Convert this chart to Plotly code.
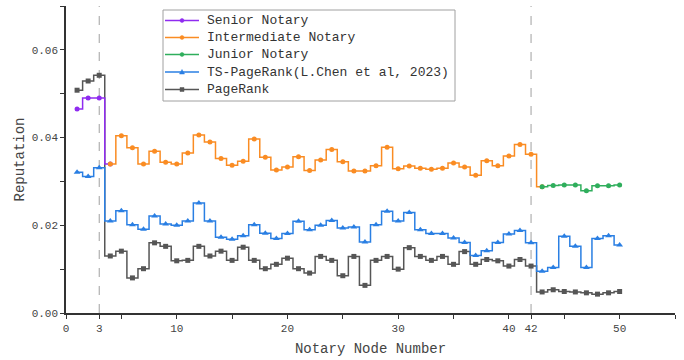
import plotly.graph_objects as go

# ---- data ----
senior_nodes = [1, 2, 3]
senior_rep = [0.0465, 0.0490, 0.0490]

intermediate_nodes = list(range(4, 43))
intermediate_rep = [0.0340, 0.0404, 0.0377, 0.0340, 0.0369, 0.0344, 0.0340, 0.0365, 0.0406, 0.0390,
                    0.0352, 0.0337, 0.0346, 0.0397, 0.0355, 0.0326, 0.0333, 0.0356, 0.0325, 0.0349,
                    0.0373, 0.0345, 0.0324, 0.0324, 0.0336, 0.0378, 0.0329, 0.0335, 0.0330, 0.0328,
                    0.0330, 0.0342, 0.0333, 0.0314, 0.0347, 0.0336, 0.0358, 0.0384, 0.0362]

junior_nodes = list(range(43, 51))
junior_rep = [0.0288, 0.0291, 0.0292, 0.0292, 0.0279, 0.0290, 0.0290, 0.0292]

all_nodes = list(range(1, 51))
ts_pagerank = [0.0321, 0.0311, 0.0331, 0.0210, 0.0233, 0.0201, 0.0191, 0.0221, 0.0203, 0.0200,
               0.0210, 0.0251, 0.0210, 0.0173, 0.0168, 0.0176, 0.0201, 0.0182, 0.0170, 0.0181,
               0.0209, 0.0190, 0.0200, 0.0211, 0.0194, 0.0196, 0.0162, 0.0201, 0.0232, 0.0210,
               0.0229, 0.0190, 0.0181, 0.0181, 0.0171, 0.0161, 0.0131, 0.0142, 0.0161, 0.0180,
               0.0188, 0.0160, 0.0095, 0.0104, 0.0175, 0.0152, 0.0104, 0.0170, 0.0176, 0.0155]
pagerank = [0.0508, 0.0529, 0.0542, 0.0130, 0.0141, 0.0080, 0.0101, 0.0160, 0.0152, 0.0119,
            0.0120, 0.0152, 0.0130, 0.0141, 0.0120, 0.0150, 0.0120, 0.0101, 0.0111, 0.0125,
            0.0101, 0.0091, 0.0129, 0.0120, 0.0085, 0.0129, 0.0063, 0.0120, 0.0129, 0.0100,
            0.0149, 0.0129, 0.0120, 0.0129, 0.0111, 0.0140, 0.0111, 0.0122, 0.0119, 0.0107,
            0.0122, 0.0107, 0.0048, 0.0053, 0.0049, 0.0048, 0.0046, 0.0043, 0.0046, 0.0049]

series_names = ["Senior Notary", "Intermediate Notary", "Junior Notary",
                "TS-PageRank(L.Chen et al, 2023)", "PageRank"]

divider_nodes = [3, 42]
x_tick_vals = [0, 3, 5, 10, 15, 20, 25, 30, 35, 40, 42, 45, 50, 55]
x_tick_text = ["0", "3", "", "10", "", "20", "", "30", "", "40", "42", "", "50", ""]
y_tick_vals = [0.0, 0.01, 0.02, 0.03, 0.04, 0.05, 0.06, 0.07]
y_tick_text = ["0.00", "", "0.02", "", "0.04", "", "0.06", ""]

C_SEN = "#8f2bf0"
C_INT = "#fa8c23"
C_JUN = "#2fae5c"
C_TS = "#2a7fe3"
C_PR = "#565656"
series_colors = [C_SEN, C_INT, C_JUN, C_TS, C_PR]
series_symbols = ["circle", "circle", "circle", "triangle", "square"]

MONO = "Liberation Mono"
W, H = 684, 360
ML, MR, MT, MB = 66, 9, 6, 47

# each class segment continues its step into the first node of the next class
sen_x = senior_nodes + [intermediate_nodes[0]]
sen_y = senior_rep + [intermediate_rep[0]]
int_x = intermediate_nodes + [junior_nodes[0]]
int_y = intermediate_rep + [junior_rep[0]]

fig = go.Figure()
# drawn bottom-to-top: PageRank, TS-PageRank, then notary classes
fig.add_trace(go.Scatter(
    x=all_nodes, y=pagerank, name=series_names[4], mode="lines+markers",
    line=dict(color=C_PR, width=1.5, shape="hvh"),
    marker=dict(symbol="square", size=5, color=C_PR)))
fig.add_trace(go.Scatter(
    x=all_nodes, y=ts_pagerank, name=series_names[3], mode="lines+markers",
    line=dict(color=C_TS, width=1.5, shape="hvh"),
    marker=dict(symbol="triangle-up", size=6, color=C_TS)))
fig.add_trace(go.Scatter(
    x=sen_x, y=sen_y, name=series_names[0], mode="lines+markers",
    line=dict(color=C_SEN, width=1.5, shape="hvh"),
    marker=dict(symbol="circle", size=5, color=C_SEN)))
fig.add_trace(go.Scatter(
    x=int_x, y=int_y, name=series_names[1], mode="lines+markers",
    line=dict(color=C_INT, width=1.5, shape="hvh"),
    marker=dict(symbol="circle", size=5, color=C_INT)))
fig.add_trace(go.Scatter(
    x=junior_nodes, y=junior_rep, name=series_names[2], mode="lines+markers",
    line=dict(color=C_JUN, width=1.5, shape="hvh"),
    marker=dict(symbol="circle", size=5, color=C_JUN)))

for d in divider_nodes:
    fig.add_shape(type="line", xref="x", yref="paper", x0=d, x1=d, y0=0, y1=1,
                  line=dict(color="#a0a0a0", width=1, dash="dash"), layer="below")

# ---- legend box (drawn manually to match the compact row spacing) ----
pw = W - ML - MR
ph = H - MT - MB


def px_x(p):
    return (p - ML) / pw


def px_y(p):
    return (H - MB - p) / ph


fig.add_shape(type="rect", xref="paper", yref="paper",
              x0=px_x(163), x1=px_x(455), y0=px_y(101), y1=px_y(10),
              line=dict(color="#a0a0a0", width=1), fillcolor="white", layer="above")
row_y = [20.5, 37.5, 54.5, 72, 89.5]
for name, col, sym, ry in zip(series_names, series_colors, series_symbols, row_y):
    yy = px_y(ry)
    fig.add_shape(type="line", xref="paper", yref="paper",
                  x0=px_x(165), x1=px_x(199), y0=yy, y1=yy,
                  line=dict(color=col, width=1.5), layer="above")
    common = dict(xref="paper", yref="paper", xsizemode="pixel", ysizemode="pixel",
                  xanchor=px_x(182), yanchor=yy, fillcolor=col, line=dict(color=col, width=0.5),
                  layer="above")
    if sym == "circle":
        fig.add_shape(type="circle", x0=-2, x1=2, y0=-2, y1=2, **common)
    elif sym == "square":
        fig.add_shape(type="rect", x0=-2, x1=2, y0=-2, y1=2, **common)
    else:
        fig.add_shape(type="path", path="M -2.5 -2 L 2.5 -2 L 0 2.5 Z", **common)
    fig.add_annotation(xref="paper", yref="paper", x=px_x(205), y=yy,
                       xanchor="left", yanchor="middle", showarrow=False, text=name,
                       font=dict(family=MONO, size=13, color="#333333"))

fig.update_layout(
    width=W, height=H,
    margin=dict(l=ML, r=MR, t=MT, b=MB),
    paper_bgcolor="white", plot_bgcolor="white",
    font=dict(family=MONO, size=11, color="#333333"),
    showlegend=False,
)
fig.update_xaxes(
    range=[0, 55], showgrid=False, zeroline=False,
    showline=True, linecolor="#333333", linewidth=1.5,
    ticks="outside", ticklen=4, tickwidth=1.2, tickcolor="#333333",
    tickmode="array", tickvals=x_tick_vals, ticktext=x_tick_text,
    tickfont=dict(family=MONO, size=11, color="#444444"),
    title=dict(text="Notary Node Number", font=dict(family=MONO, size=14, color="#444444"), standoff=9),
)
fig.update_yaxes(
    range=[0, 0.07], showgrid=False, zeroline=False,
    showline=True, linecolor="#333333", linewidth=1.5,
    ticks="outside", ticklen=4, tickwidth=1.2, tickcolor="#333333",
    tickmode="array", tickvals=y_tick_vals, ticktext=y_tick_text,
    tickfont=dict(family=MONO, size=11, color="#444444"),
    title=dict(text="Reputation", font=dict(family=MONO, size=14, color="#444444"), standoff=4),
)

fig.write_html("out.html")
